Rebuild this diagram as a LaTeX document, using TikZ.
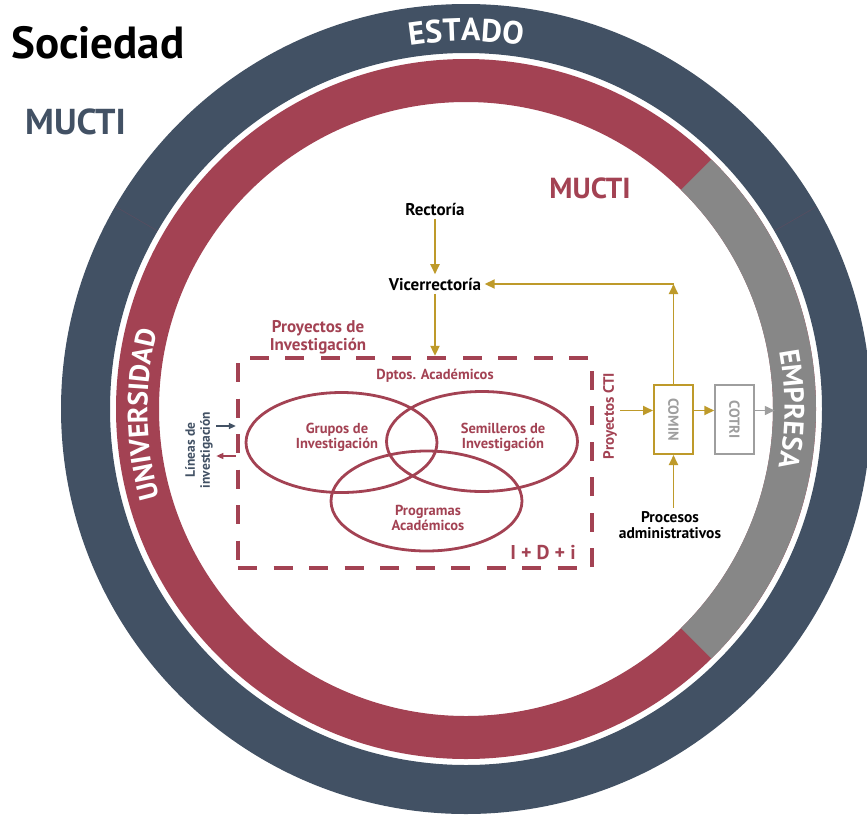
\documentclass[tikz,border=0pt]{standalone}
\usepackage{fontspec}
\usepackage{graphicx}
\setmainfont{PT Sans}
\usetikzlibrary{shapes.geometric,arrows.meta,decorations.text,calc}
\definecolor{navy}{RGB}{66,81,100}
\definecolor{wine}{RGB}{163,66,83}
\definecolor{ringgray}{RGB}{135,135,135}
\definecolor{ochre}{RGB}{190,154,42}
\definecolor{boxgray}{RGB}{158,158,158}
\newcommand{\fsz}[2]{\fontsize{#1}{#2}\selectfont}

\begin{document}
\begin{tikzpicture}[x=1pt,y=1pt,>={Triangle[length=10pt,width=9pt]},
    flow/.style={->,ochre,line width=1.8pt},
    thin flow/.style={->,>={Triangle[length=7pt,width=6pt]},line width=1.4pt},
    unit box/.style={draw,minimum width=39pt,minimum height=69pt,inner sep=0pt,font=\bfseries\fsz{14.5}{14.5}},
    lab box/.style={draw=wine,line width=4.3pt,dash pattern=on 19pt off 16.5pt,minimum width=354pt,minimum height=210pt},
    venn/.style={ellipse,draw=wine,line width=2.8pt,minimum width=191pt,minimum height=100pt,inner sep=0pt},
    venn text/.style={wine,font=\bfseries\fsz{14.5}{15},align=center}]

    \useasboundingbox[fill=white] (0,0) rectangle (867,-817);
    \coordinate (c) at (466,-409);

    \draw[navy,line width=49pt] (c) circle[radius=380.5];
    \draw[wine,line width=43pt] (c) circle[radius=328.5];
    \draw[ringgray,line width=43pt] ([shift={(-45.5:328.5)}]c) arc[start angle=-45.5,end angle=45.5,radius=328.5];
    \draw[wine!50!navy,line width=.5pt,opacity=.5] ([shift={(30:356)}]c) -- ([shift={(30:405)}]c);
    \draw[wine!50!navy,line width=.5pt,opacity=.5] ([shift={(150:356)}]c) -- ([shift={(150:405)}]c);

    \path[decorate,decoration={text along path,text align=center,text color=white,text={|\bfseries\fsz{32}{32}|ESTADO}}]
        ([shift={(130:368)}]c) arc[start angle=130,end angle=50,radius=368];
    \path[decorate,decoration={text along path,text align=center,text color=white,text={|\bfseries\fsz{28}{28}|UNIVERSIDAD}}]
        ([shift={(221:318.5)}]c) arc[start angle=221,end angle=141,radius=318.5];
    \path[decorate,decoration={text along path,text align=center,text color=white,text={|\bfseries\fsz{28}{28}|EMPRESA}}]
        ([shift={(40:318.5)}]c) arc[start angle=40,end angle=-40,radius=318.5];

    \node[font=\bfseries\fsz{45}{45},anchor=west,inner sep=0pt] (soc) at (11,-43) {Sociedad};
    \node[navy,font=\bfseries\fsz{36}{36},anchor=west,inner sep=0pt] (mucti out) at (25,-122) {MUCTI};
    \node[wine,font=\bfseries\fsz{29}{29}] (mucti in) at (590,-188) {MUCTI};

    \node[font=\bfseries\fsz{17}{17}] (rect) at (435,-209) {Rectoría};
    \node[font=\bfseries\fsz{17}{17}] (vice) at (435,-284) {Vicerrectoría};

    \node[lab box] (lab) at (415,-463) {};
    \node[wine,font=\bfseries\fsz{17}{18},align=center] (pinv) at (318,-337) {Proyectos de\\Investigación};
    \node[wine,font=\bfseries\fsz{14.5}{15}] (dptos) at (435,-376) {Dptos. Académicos};

    \node[venn] (gru) at (341.5,-442.5) {};
    \node[venn] (sem) at (482,-441.5) {};
    \node[venn] (prog) at (426.5,-501) {};
    \node[venn text] (gru t) at (337,-437) {Grupos de\\Investigación};
    \node[venn text] (sem t) at (503,-437) {Semilleros de\\Investigación};
    \node[venn text] (prog t) at (428,-518) {Programas\\Académicos};
    \node[wine,font=\bfseries\fsz{20}{20}] (idi) at (543,-552) {I + D + i};

    \node[navy,font=\bfseries\fsz{13.5}{15},align=center,rotate=90] (lin) at (199,-450) {Líneas de\\investigación};
    \node[wine,font=\bfseries\fsz{15}{15},rotate=90] (cti) at (610,-416) {Proyectos CTI};

    \node[unit box,draw=ochre,line width=2pt,text=boxgray] (comin) at (673.5,-419.5) {\rotatebox{-90}{COMIN}};
    \node[unit box,draw=boxgray,line width=1.5pt,text=boxgray] (cotri) at (734.5,-419.5) {\rotatebox{-90}{COTRI}};
    \node[font=\bfseries\fsz{15.5}{16},align=center] (proc) at (670,-525) {Procesos\\administrativos};

    \coordinate (feed) at ([yshift=9]comin.west);
    \coordinate (turn) at (comin.north |- vice.east);
    \coordinate (emp) at ($(cotri.east |- feed)+(20,0)$);
    \coordinate (lin up) at ([yshift=24]lin.south);
    \coordinate (lin dn) at ([yshift=-6]lin.south);

    \draw[flow] (rect) -- (vice);
    \draw[flow] (vice) -- (vice |- lab.north);
    \draw[flow] (comin.north) -- (turn);
    \draw[flow] (turn) -- (vice.east);
    \draw[flow] (feed -| cti.south) -- (feed);
    \draw[flow] (feed -| comin.east) -- (feed -| cotri.west);
    \draw[->,boxgray,line width=1.5pt] (feed -| cotri.east) -- (emp);
    \draw[flow] (comin.south |- proc.north) -- (comin.south);
    \draw[thin flow,navy] (lin up) -- (lin up -| lab.west);
    \draw[thin flow,wine] (lin dn -| lab.west) -- (lin dn);
\end{tikzpicture}
\end{document}
